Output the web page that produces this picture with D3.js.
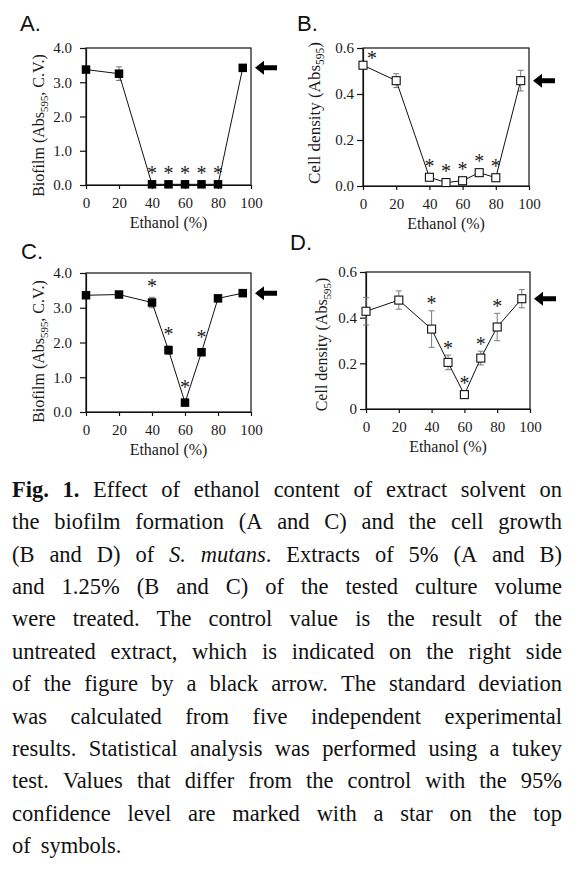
<!DOCTYPE html>
<html>
<head>
<meta charset="utf-8">
<script src="https://cdn.jsdelivr.net/npm/d3@7/dist/d3.min.js"></script>
<style>
  html, body { margin: 0; padding: 0; background: #fff; }
  svg { display: block; }
</style>
</head>
<body>
<script>
// ---------------- DATA ----------------
const ethanol = [0, 20, 40, 50, 60, 70, 80, 95];
const xTicks = [0, 20, 40, 60, 80, 100];
const xTickLabels = ["0", "20", "40", "60", "80", "100"];

// Panel A: biofilm, 5% extract
const biofilmA    = [3.37, 3.25, 0.02, 0.02, 0.02, 0.02, 0.02, 3.42];
const biofilmAErr = [0.05, 0.20, 0.01, 0.01, 0.01, 0.01, 0.01, 0.05];
const sigA        = [0, 0, 1, 1, 1, 1, 1, 0];

// Panel B: cell density, 5% extract
const cellB    = [0.525, 0.458, 0.038, 0.015, 0.023, 0.058, 0.036, 0.458];
const cellBErr = [0.015, 0.030, 0.008, 0.005, 0.008, 0.008, 0.008, 0.045];
const sigB     = [1, 0, 1, 1, 1, 1, 1, 0];

// Panel C: biofilm, 1.25% extract
const biofilmC    = [3.36, 3.38, 3.15, 1.78, 0.27, 1.72, 3.27, 3.42];
const biofilmCErr = [0.05, 0.05, 0.15, 0.12, 0.05, 0.08, 0.05, 0.05];
const sigC        = [0, 0, 1, 1, 1, 1, 0, 0];

// Panel D: cell density, 1.25% extract
const cellD    = [0.428, 0.477, 0.350, 0.204, 0.063, 0.223, 0.359, 0.483];
const cellDErr = [0.060, 0.040, 0.080, 0.032, 0.008, 0.030, 0.060, 0.040];
const sigD     = [0, 0, 1, 1, 1, 1, 1, 0];

const yTicksBiofilm = [0, 1, 2, 3, 4];
const yTickLabelsBiofilm = ["0.0", "1.0", "2.0", "3.0", "4.0"];
const yTicksCell = [0, 0.2, 0.4, 0.6];
const yTickLabelsB = ["0.0", "0.2", "0.4", "0.6"];
const yTickLabelsD = ["0", "0.2", "0.4", "0.6"];

const panelLetters = ["A.", "B.", "C.", "D."];
const xLabel = "Ethanol (%)";

const captionLines = [
  "**Fig.** **1.** Effect of ethanol content of extract solvent on",
  "the biofilm formation (A and C) and the cell growth",
  "(B and D) of *S.* *mutans*. Extracts of 5% (A and B)",
  "and 1.25% (B and C) of the tested culture volume",
  "were treated. The control value is the result of the",
  "untreated extract, which is indicated on the right side",
  "of the figure by a black arrow. The standard deviation",
  "was calculated from five independent experimental",
  "results. Statistical analysis was performed using a tukey",
  "test. Values that differ from the control with the 95%",
  "confidence level are marked with a star on the top",
  "of symbols."
];

// ---------------- LAYOUT ----------------
const W = 581, H = 872;
const SERIF = "'Liberation Serif', 'Times New Roman', serif";
const SANS = "'Liberation Sans', Arial, sans-serif";
const TXT = "#1a1a1a";

const svg = d3.select("body").append("svg")
  .attr("width", W).attr("height", H)
  .style("background", "#fff");

const panels = [
  { letter: panelLetters[0], vals: biofilmA, errs: biofilmAErr, sig: sigA, yMax: 4,
    yTicks: yTicksBiofilm, yLabels: yTickLabelsBiofilm, filled: true,
    box: { l: 86, r: 251, t: 48, b: 185 }, letterPos: { x: 20, y: 31 },
    ylab: { main: "Biofilm (Abs", sub: "595", tail: ", C.V.)" }, ylabX: 44, ylabShift: 9, ylabSize: 16,
    tickPad: 8, starGap: 10 },
  { letter: panelLetters[1], vals: cellB, errs: cellBErr, sig: sigB, yMax: 0.6,
    yTicks: yTicksCell, yLabels: yTickLabelsB, filled: false,
    box: { l: 363, r: 529, t: 48, b: 186 }, letterPos: { x: 297, y: 31 },
    ylab: { main: "Cell density (Abs", sub: "595", tail: ")" }, ylabX: 320, ylabShift: -4, ylabSize: 17,
    tickPad: 3, starGap: 10 },
  { letter: panelLetters[2], vals: biofilmC, errs: biofilmCErr, sig: sigC, yMax: 4,
    yTicks: yTicksBiofilm, yLabels: yTickLabelsBiofilm, filled: true,
    box: { l: 86, r: 251, t: 273, b: 412 }, letterPos: { x: 21, y: 259 },
    ylab: { main: "Biofilm (Abs", sub: "595", tail: ", C.V.)" }, ylabX: 44, ylabShift: 9, ylabSize: 16,
    tickPad: 8, starGap: 14 },
  { letter: panelLetters[3], vals: cellD, errs: cellDErr, sig: sigD, yMax: 0.6,
    yTicks: yTicksCell, yLabels: yTickLabelsD, filled: false,
    box: { l: 366, r: 530, t: 272, b: 409 }, letterPos: { x: 290, y: 250 },
    ylab: { main: "Cell density (Abs", sub: "595", tail: ")" }, ylabX: 327, ylabShift: 4, ylabSize: 16,
    tickPad: 3, starGap: 10 }
];

panels.forEach(p => {
  const g = svg.append("g");
  const { l, r, t, b } = p.box;
  const x = d3.scaleLinear().domain([0, 100]).range([l, r]);
  const y = d3.scaleLinear().domain([0, p.yMax]).range([b, t]);
  const data = ethanol.map((e, i) => ({ e, v: p.vals[i], err: p.errs[i], s: p.sig[i] }));

  // panel letter
  g.append("text").attr("x", p.letterPos.x).attr("y", p.letterPos.y)
    .attr("font-family", SANS).attr("font-size", 22).attr("fill", "#111")
    .text(p.letter);

  // frame
  g.append("rect").attr("x", l).attr("y", t).attr("width", r - l).attr("height", b - t)
    .attr("fill", "none").attr("stroke", "#111").attr("stroke-width", 1.2);

  // axes
  const yAxis = d3.axisLeft(y).tickValues(p.yTicks)
    .tickFormat((d, i) => p.yLabels[i]).tickSize(6).tickSizeOuter(0).tickPadding(p.tickPad);
  const ya = g.append("g").attr("transform", `translate(${l},0)`).call(yAxis);
  const xAxis = d3.axisBottom(x).tickValues(xTicks)
    .tickFormat((d, i) => xTickLabels[i]).tickSize(4).tickSizeOuter(0).tickPadding(8);
  const xa = g.append("g").attr("transform", `translate(0,${b})`).call(xAxis);
  [ya, xa].forEach(a => {
    a.select(".domain").attr("stroke", "#111").attr("stroke-width", 1.2);
    a.selectAll(".tick line").attr("stroke", "#111").attr("stroke-width", 1.2);
    a.selectAll(".tick text").attr("font-family", SERIF).attr("font-size", 15).attr("fill", TXT);
  });

  // x label
  g.append("text").attr("x", (l + r) / 2).attr("y", b + 43)
    .attr("text-anchor", "middle").attr("font-family", SERIF).attr("font-size", 16).attr("fill", TXT)
    .text(xLabel);

  // y label
  const cy = (t + b) / 2 + p.ylabShift;
  const yl = g.append("text")
    .attr("transform", `translate(${p.ylabX},${cy}) rotate(-90)`)
    .attr("text-anchor", "middle").attr("font-family", SERIF).attr("font-size", p.ylabSize).attr("fill", TXT);
  yl.append("tspan").text(p.ylab.main);
  yl.append("tspan").attr("font-size", p.ylabSize * 0.68).attr("dy", 4).text(p.ylab.sub);
  yl.append("tspan").attr("dy", -4).text(p.ylab.tail);

  // error bars
  const eb = g.append("g").attr("stroke", "#7a7a7a").attr("stroke-width", 1);
  data.forEach(d => {
    const y1 = y(d.v + d.err), y2 = y(Math.max(0, d.v - d.err)), cx = x(d.e);
    eb.append("line").attr("x1", cx).attr("x2", cx).attr("y1", y1).attr("y2", y2);
    eb.append("line").attr("x1", cx - 3).attr("x2", cx + 3).attr("y1", y1).attr("y2", y1);
    eb.append("line").attr("x1", cx - 3).attr("x2", cx + 3).attr("y1", y2).attr("y2", y2);
  });

  // line
  g.append("path").datum(data)
    .attr("d", d3.line().x(d => x(d.e)).y(d => y(d.v)))
    .attr("fill", "none").attr("stroke", "#111").attr("stroke-width", 1);

  // markers
  const ms = p.filled ? 8.5 : 8;
  g.selectAll("rect.mk").data(data).enter().append("rect").attr("class", "mk")
    .attr("x", d => x(d.e) - ms / 2).attr("y", d => y(d.v) - ms / 2)
    .attr("width", ms).attr("height", ms)
    .attr("fill", p.filled ? "#000" : "#fff")
    .attr("stroke", p.filled ? "none" : "#111").attr("stroke-width", 1.1);

  // significance stars
  data.filter(d => d.s).forEach(d => {
    let cx = x(d.e);
    let cyS = Math.min(y(d.v + d.err), y(d.v) - 4) - p.starGap;
    if (cyS < t + 8) { cx += 9; cyS = t + 7; }
    g.append("text").attr("x", cx).attr("y", cyS + 9.5)
      .attr("text-anchor", "middle").attr("font-family", SERIF).attr("font-size", 20)
      .attr("fill", "#222").text("*");
  });

  // control arrow at the value of the last point (untreated control)
  const ay = y(p.vals[p.vals.length - 1]);
  const ax = r + 4;
  g.append("path")
    .attr("d", `M${ax},${ay} L${ax + 9},${ay - 7} L${ax + 9},${ay - 2.5} L${ax + 22},${ay - 2.5} L${ax + 22},${ay + 2.5} L${ax + 9},${ay + 2.5} L${ax + 9},${ay + 7} Z`)
    .attr("fill", "#000");
});

// ---------------- CAPTION (justified) ----------------
const capLeft = 12, capRight = 562, capTop = 497, capStep = 32.36, capSize = 22.5;
const cap = svg.append("g").attr("font-family", SERIF).attr("font-size", capSize).attr("fill", "#111");

function parseWord(w) {
  const segs = [];
  const re = /(\*\*[^*]+\*\*|\*[^*]+\*)/g;
  let last = 0, m;
  while ((m = re.exec(w)) !== null) {
    if (m.index > last) segs.push({ t: w.slice(last, m.index), b: false, i: false });
    if (m[0].startsWith("**")) segs.push({ t: m[0].slice(2, -2), b: true, i: false });
    else segs.push({ t: m[0].slice(1, -1), b: false, i: true });
    last = m.index + m[0].length;
  }
  if (last < w.length) segs.push({ t: w.slice(last), b: false, i: false });
  return segs;
}

captionLines.forEach((line, li) => {
  const words = line.split(" ");
  const yb = capTop + li * capStep;
  const nodes = words.map(w => {
    const tx = cap.append("text").attr("y", yb).attr("x", 0);
    parseWord(w).forEach(s => {
      tx.append("tspan").text(s.t)
        .attr("font-weight", s.b ? "bold" : null)
        .attr("font-style", s.i ? "italic" : null);
    });
    return tx;
  });
  const widths = nodes.map(n => n.node().getComputedTextLength());
  const total = d3.sum(widths);
  const isLast = li === captionLines.length - 1;
  const gap = isLast ? 10 : (capRight - capLeft - total) / (words.length - 1);
  let cx = capLeft;
  nodes.forEach((n, i) => { n.attr("x", cx); cx += widths[i] + gap; });
});
</script>
</body>
</html>
